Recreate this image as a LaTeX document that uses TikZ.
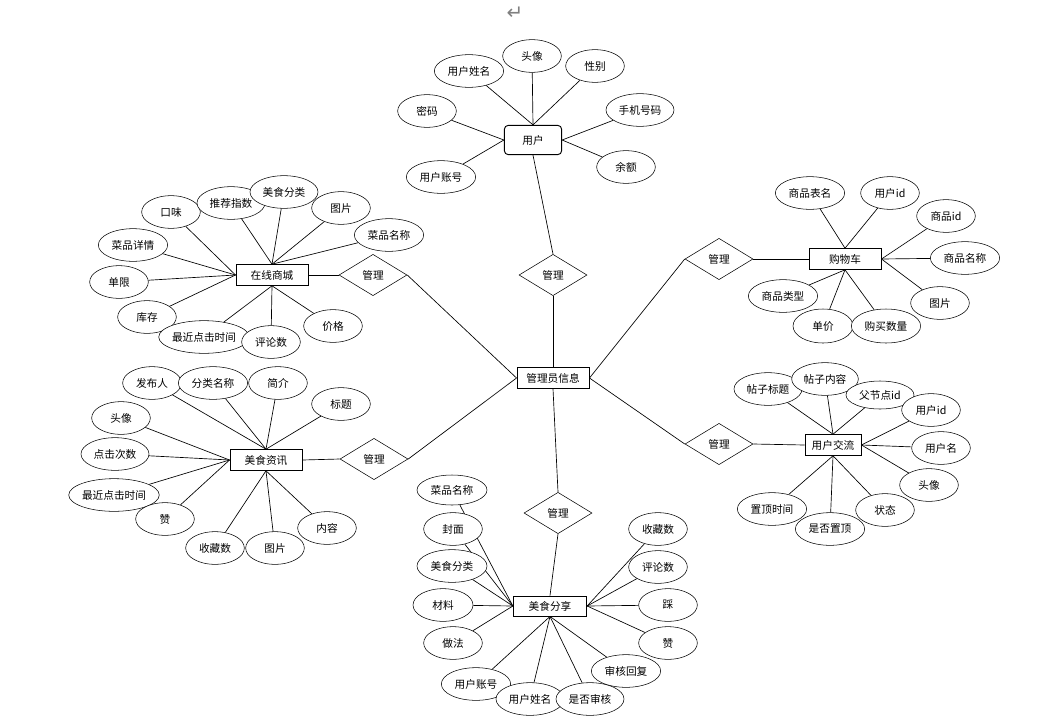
\documentclass[tikz,border=0pt]{standalone}
\usepackage{fontspec}
\setmainfont{Noto Sans CJK SC}
\newfontfamily\symfont{DejaVu Sans}
\usetikzlibrary{shapes.geometric,backgrounds}
\begin{document}
\begin{tikzpicture}[x=0.75pt,y=-0.75pt,
  font=\fontsize{8}{9}\selectfont,
  attr/.style={ellipse,draw,fill=white,inner sep=0pt,minimum height=24.5pt,minimum width=#1},
  attr/.default=44pt,
  ent/.style={rectangle,draw,fill=white,inner sep=0pt,minimum width=54pt,minimum height=15.5pt,line width=0.7pt},
  rel/.style={diamond,draw,fill=white,inner sep=0pt,minimum width=51pt,minimum height=31pt},
  conn/.style={draw,line width=0.5pt}]
\useasboundingbox (0,0) rectangle (1052,721);
\node[text=gray,font=\symfont\fontsize{15}{15}\selectfont] (ret) at (515,13) {↵};

% central
\node[ent] (adm) at (553,378) {管理员信息};
\node[rel] (r1) at (553,275) {管理};
\node[rel] (r2) at (373,275) {管理};
\node[rel] (r3) at (374,459) {管理};
\node[rel] (r4) at (719,259) {管理};
\node[rel] (r5) at (719,444) {管理};
\node[rel] (r6) at (558,513) {管理};

% user
\node[ent,rounded corners=3pt,minimum width=43pt,minimum height=22pt] (yh) at (533,140) {用户};
\node[attr=52pt] (yh1) at (469,71) {用户姓名};
\node[attr] (yh2) at (532,56) {头像};
\node[attr] (yh3) at (595,66) {性别};
\node[attr] (yh4) at (427,111) {密码};
\node[attr=51pt] (yh5) at (640,110) {手机号码};
\node[attr] (yh6) at (626,167) {余额};
\node[attr=52pt] (yh7) at (441,177) {用户账号};

% online shop
\node[ent] (sc) at (272,275) {在线商城};
\node[attr] (sc1) at (171,212) {口味};
\node[attr=51pt] (sc2) at (231,203) {推荐指数};
\node[attr=51pt] (sc3) at (284,192) {美食分类};
\node[attr] (sc4) at (341,208) {图片};
\node[attr=52pt] (sc5) at (389,235) {菜品名称};
\node[attr=52pt] (sc6) at (133,245) {菜品详情};
\node[attr] (sc7) at (119,282) {单限};
\node[attr] (sc8) at (147,317) {库存};
\node[attr=64pt] (sc9) at (204,337) {最近点击时间};
\node[attr] (sc10) at (271,342) {评论数};
\node[attr] (sc11) at (333,326) {价格};

% food news
\node[ent] (zx) at (266,460) {美食资讯};
\node[attr] (zx1) at (152,383) {发布人};
\node[attr=52pt] (zx2) at (213,383) {分类名称};
\node[attr] (zx3) at (278,383) {简介};
\node[attr] (zx4) at (341,404) {标题};
\node[attr] (zx5) at (121,418) {头像};
\node[attr=51pt] (zx6) at (115,454) {点击次数};
\node[attr=67.5pt] (zx7) at (114,495) {最近点击时间};
\node[attr] (zx8) at (165,519) {赞};
\node[attr] (zx9) at (215,548) {收藏数};
\node[attr] (zx10) at (275,548) {图片};
\node[attr] (zx11) at (327,528) {内容};

% food sharing
\node[ent,minimum width=55pt,minimum height=15pt] (fx) at (550,606) {美食分享};
\node[attr=52.5pt,minimum height=22.5pt] (fx1) at (452,490) {菜品名称};
\node[attr] (fx2) at (453,529) {封面};
\node[attr=52.5pt] (fx3) at (452,566) {美食分类};
\node[attr=45pt] (fx4) at (443,605) {材料};
\node[attr] (fx5) at (453,643) {做法};
\node[attr=52pt] (fx6) at (476,684) {用户账号};
\node[attr=51pt] (fx7) at (530,699) {用户姓名};
\node[attr=51pt] (fx8) at (590,699) {是否审核};
\node[attr=52pt] (fx9) at (626,671) {审核回复};
\node[attr] (fx10) at (658,529) {收藏数};
\node[attr] (fx11) at (658,567) {评论数};
\node[attr] (fx12) at (668,605) {踩};
\node[attr] (fx13) at (668,643) {赞};

% cart
\node[ent] (gw) at (845,259) {购物车};
\node[attr=52pt] (gw1) at (810,193) {商品表名};
\node[attr] (gw2) at (890,193) {用户id};
\node[attr] (gw3) at (946,216) {商品id};
\node[attr=52pt] (gw4) at (965,258) {商品名称};
\node[attr] (gw5) at (940,303) {图片};
\node[attr=52pt] (gw6) at (783,296) {商品类型};
\node[attr=45pt,minimum height=25.5pt] (gw7) at (823,326) {单价};
\node[attr=52pt,minimum height=25.5pt] (gw8) at (886,326) {购买数量};

% exchange
\node[ent,minimum width=42pt] (jl) at (833,445) {用户交流};
\node[attr=51pt] (jl1) at (768,389) {帖子标题};
\node[attr=50pt] (jl2) at (825,379) {帖子内容};
\node[attr=51pt,minimum height=21pt] (jl3) at (880,395) {父节点id};
\node[attr] (jl4) at (931,410) {用户id};
\node[attr] (jl5) at (941,448) {用户名};
\node[attr] (jl6) at (929,485) {头像};
\node[attr=52pt] (jl9) at (772,509) {置顶时间};
\node[attr] (jl7) at (885,510) {状态};
\node[attr=52pt] (jl8) at (830,529) {是否置顶};

\begin{pgfonlayer}{background}
% central links
\draw[conn] (yh.south) -- (r1.north);
\draw[conn] (r1.south) -- (adm.north);
\draw[conn] (r2.east) -- (adm.west);
\draw[conn] (r3.east) -- (adm.west);
\draw[conn] (r4.west) -- (adm.east);
\draw[conn] (r5.west) -- (adm.east);
\draw[conn] (adm.south) -- (r6.north);
\draw[conn] (r6.south) -- (fx.north);
\draw[conn] (sc.east) -- (r2.west);
\draw[conn] (zx.east) -- (r3.west);
\draw[conn] (r4.east) -- (gw.west);
\draw[conn] (r5.east) -- (jl.west);
% user
\foreach \a in {yh1,yh2,yh3} \draw[conn] (yh.north) -- (\a);
\foreach \a in {yh4,yh7} \draw[conn] (yh.west) -- (\a);
\foreach \a in {yh5,yh6} \draw[conn] (yh.east) -- (\a);
% shop
\foreach \a in {sc1,sc6,sc7,sc8} \draw[conn] (sc.west) -- (\a);
\foreach \a in {sc2,sc3,sc4,sc5} \draw[conn] (sc.north) -- (\a);
\foreach \a in {sc9,sc10,sc11} \draw[conn] (sc.south) -- (\a);
% news
\foreach \a in {zx1,zx2,zx3,zx4} \draw[conn] (zx.north) -- (\a);
\foreach \a in {zx5,zx6,zx7,zx8} \draw[conn] (zx.west) -- (\a);
\foreach \a in {zx9,zx10,zx11} \draw[conn] (zx.south) -- (\a);
% sharing
\foreach \a in {fx1,fx2,fx3,fx4,fx5} \draw[conn] (fx.west) -- (\a);
\foreach \a in {fx6,fx7,fx8,fx9} \draw[conn] (fx.south) -- (\a);
\foreach \a in {fx10,fx11,fx12,fx13} \draw[conn] (fx.east) -- (\a);
% cart
\foreach \a in {gw1,gw2} \draw[conn] (gw.north) -- (\a);
\foreach \a in {gw3,gw4,gw5} \draw[conn] (gw.east) -- (\a);
\foreach \a in {gw6,gw7,gw8} \draw[conn] (gw.south) -- (\a);
% exchange
\foreach \a in {jl1,jl2,jl3} \draw[conn] (jl.north) -- (\a);
\foreach \a in {jl4,jl5,jl6} \draw[conn] (jl.east) -- (\a);
\foreach \a in {jl7,jl8,jl9} \draw[conn] (jl.south) -- (\a);
\end{pgfonlayer}
\end{tikzpicture}
\end{document}
